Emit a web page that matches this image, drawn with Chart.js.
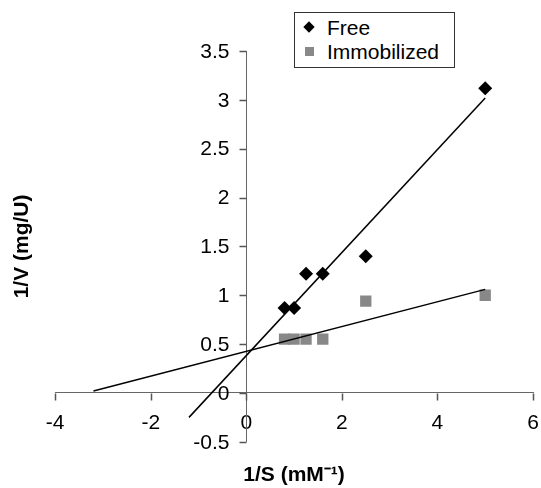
<!DOCTYPE html>
<html>
<head>
<meta charset="utf-8">
<script src="https://cdn.jsdelivr.net/npm/chart.js@4/dist/chart.umd.min.js"></script>
<style>
  body { margin: 0; background: #fff; }
  #wrap { position: relative; width: 541px; height: 488px; }
  #legend {
    position: absolute; left: 294px; top: 12px; width: 159px; height: 54px;
    border: 1px solid #333; background: #fff;
    font: 21px "Liberation Sans", Arial, sans-serif; color: #000;
  }
  .row { position: absolute; left: 0; height: 24px; line-height: 24px; }
  .row span { position: absolute; left: 32px; white-space: nowrap; }
  .diamond { position: absolute; left: 10px; top: 7px; width: 8px; height: 8px; background: #000; transform: rotate(45deg); }
  .square { position: absolute; left: 10px; top: 7px; width: 9px; height: 9px; background: #888; }
</style>
</head>
<body>
<div id="wrap">
  <canvas id="lineweaver" width="541" height="488"></canvas>
  <div id="legend">
    <div class="row" style="top:3px"><i class="diamond"></i><span>Free</span></div>
    <div class="row" style="top:27px"><i class="square"></i><span>Immobilized</span></div>
  </div>
</div>
<script>
// Lineweaver-Burk data
const freeX = [0.8, 1.0, 1.25, 1.6, 2.5, 5.0];
const freeY = [0.87, 0.87, 1.22, 1.22, 1.4, 3.12];
const immX = [0.8, 1.0, 1.25, 1.6, 2.5, 5.0];
const immY = [0.55, 0.55, 0.55, 0.55, 0.94, 1.0];

// trendline end points
const freeFitX = [-1.2, 5.0];
const freeFitY = [-0.25, 3.02];
const immFitX = [-3.2, 5.0];
const immFitY = [0.02, 1.06];

const xTicks = [-4, -2, 0, 2, 4, 6];
const yTicks = [-0.5, 0, 0.5, 1, 1.5, 2, 2.5, 3, 3.5];

const toPoints = (xs, ys) => xs.map((x, i) => ({ x: x, y: ys[i] }));

// tick marks on the crossing axes, plus the y labels
// (chart.js puts labels of a value-positioned y axis right on the line)
const tickMarks = {
  id: 'tickMarks',
  afterDraw(chart) {
    const { ctx } = chart;
    const xs = chart.scales.x;
    const ys = chart.scales.y;
    const x0 = Math.round(xs.getPixelForValue(0)) + 0.5;
    const y0 = Math.round(ys.getPixelForValue(0)) + 0.5;
    ctx.save();
    ctx.strokeStyle = '#555';
    ctx.lineWidth = 1.5;
    ctx.beginPath();
    xTicks.forEach(v => {
      const px = Math.round(xs.getPixelForValue(v)) + 0.5;
      ctx.moveTo(px, y0);
      ctx.lineTo(px, y0 + 7);
    });
    yTicks.forEach(v => {
      const py = Math.round(ys.getPixelForValue(v)) + 0.5;
      ctx.moveTo(x0 - 7, py);
      ctx.lineTo(x0, py);
    });
    ctx.stroke();

    ctx.fillStyle = '#000';
    ctx.font = '21px "Liberation Sans", Arial, sans-serif';
    ctx.textAlign = 'right';
    ctx.textBaseline = 'middle';
    yTicks.forEach(v => {
      ctx.fillText(String(v), x0 - 17, ys.getPixelForValue(v) + 1);
    });
    ctx.restore();
  },
};

document.addEventListener('DOMContentLoaded', () => {
  const tickFont = { family: '"Liberation Sans", Arial, sans-serif', size: 21 };
  const titleFont = { family: '"Liberation Sans", Arial, sans-serif', size: 21, weight: 'bold' };
  const axisColor = '#666';

  new Chart(document.getElementById('lineweaver'), {
    type: 'scatter',
    data: {
      datasets: [{
        label: 'Free fit',
        data: toPoints(freeFitX, freeFitY),
        showLine: true,
        borderColor: '#000',
        borderWidth: 1.5,
        pointRadius: 0,
      }, {
        label: 'Immobilized fit',
        data: toPoints(immFitX, immFitY),
        showLine: true,
        borderColor: '#000',
        borderWidth: 1.5,
        pointRadius: 0,
      }, {
        label: 'Free',
        data: toPoints(freeX, freeY),
        pointStyle: 'rectRot',
        pointRadius: 7,
        backgroundColor: '#000',
        borderColor: '#000',
        borderWidth: 0,
      }, {
        label: 'Immobilized',
        data: toPoints(immX, immY),
        pointStyle: 'rect',
        pointRadius: 8,
        backgroundColor: '#888',
        borderColor: '#888',
        borderWidth: 0,
      }],
    },
    options: {
      responsive: false,
      animation: false,
      layout: { padding: { top: 51, right: 0, bottom: 0, left: 0 } },
      plugins: { legend: { display: false }, tooltip: { enabled: false } },
      scales: {
        x: {
          type: 'linear',
          position: { y: 0 },
          min: -4,
          max: 6,
          afterBuildTicks: axis => { axis.ticks = xTicks.map(v => ({ value: v })); },
          ticks: { font: tickFont, color: '#000', padding: 2, callback: v => String(v) },
          grid: { drawOnChartArea: false, drawTicks: true, tickLength: 16, tickColor: 'rgba(0,0,0,0)', color: 'rgba(0,0,0,0)' },
          border: { color: axisColor },
        },
        y: {
          type: 'linear',
          position: { x: 0 },
          min: -0.5,
          max: 3.5,
          afterBuildTicks: axis => { axis.ticks = yTicks.map(v => ({ value: v })); },
          ticks: { display: false },
          grid: { drawOnChartArea: false, drawTicks: false },
          border: { color: axisColor },
        },
        // title-only axes so the labels sit at the edges like the original
        xt: {
          type: 'linear',
          axis: 'x',
          position: 'bottom',
          ticks: { display: false },
          grid: { display: false, drawTicks: false },
          border: { display: false },
          title: { display: true, text: '1/S (mM\u207B\u00B9)', font: titleFont, color: '#000', padding: { top: 21, bottom: 0 } },
        },
        yt: {
          type: 'linear',
          axis: 'y',
          position: 'left',
          ticks: { display: false },
          grid: { display: false, drawTicks: false },
          border: { display: false },
          title: { display: true, text: '1/V (mg/U)', font: titleFont, color: '#000', padding: { top: 10, bottom: 20 } },
        },
      },
    },
    plugins: [tickMarks],
  });
});
</script>
</body>
</html>
